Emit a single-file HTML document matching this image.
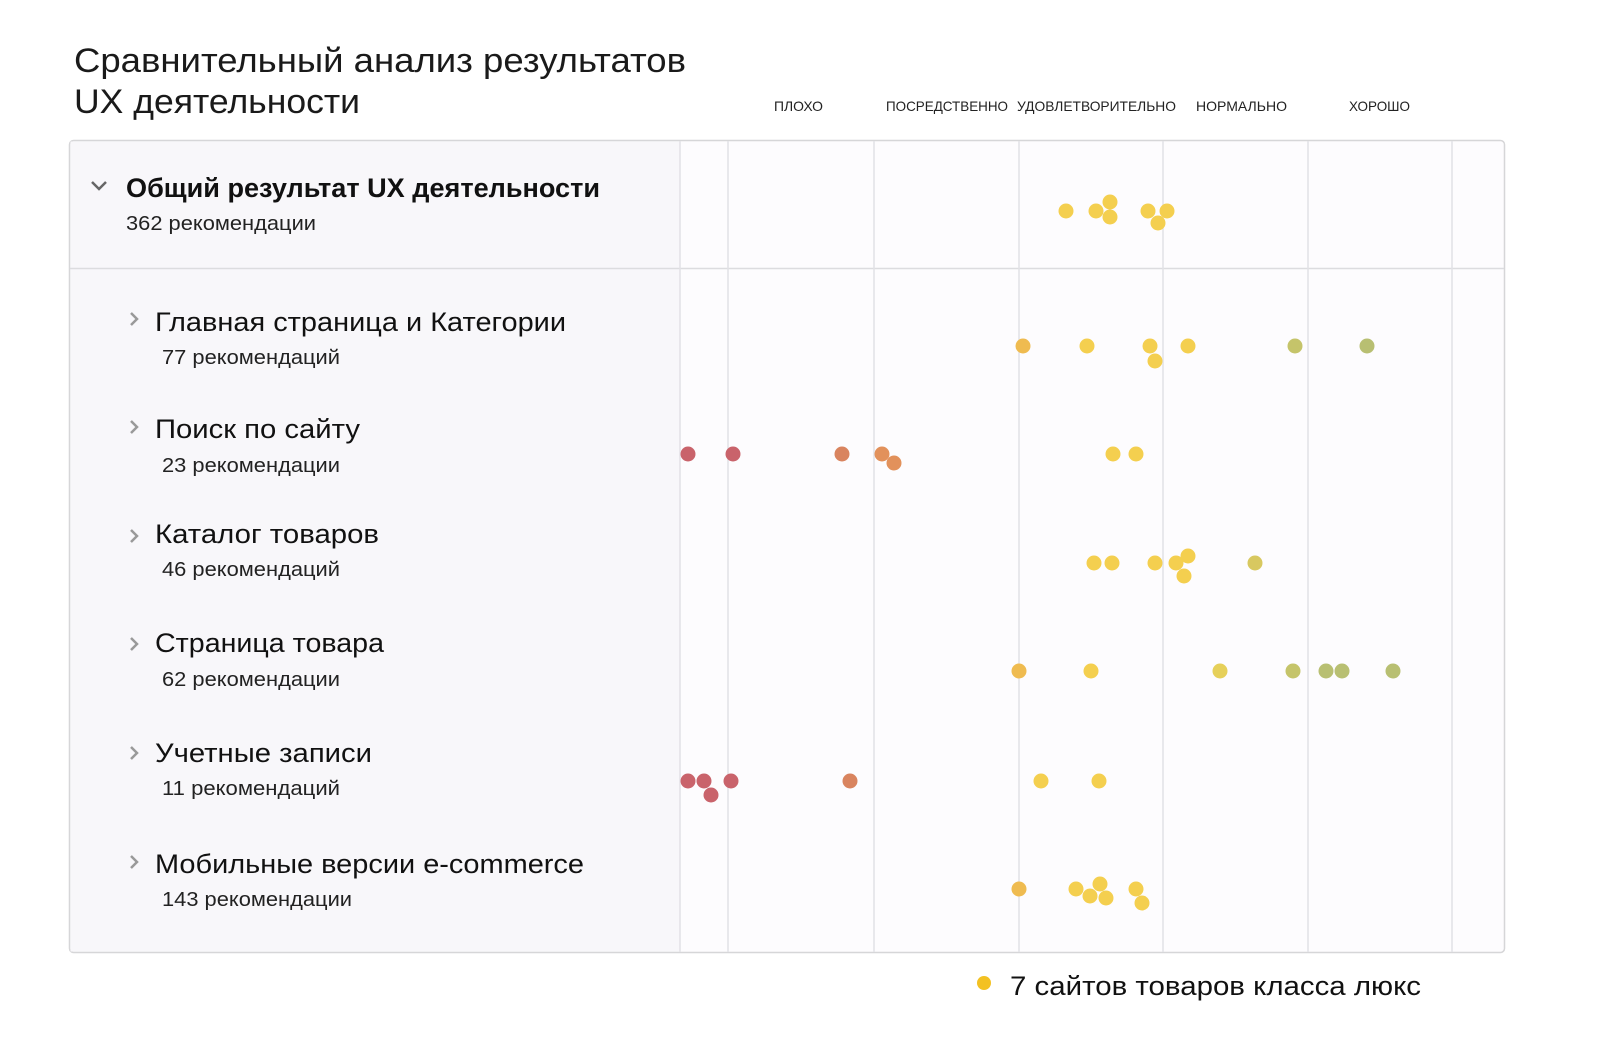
<!DOCTYPE html>
<html><head><meta charset="utf-8"><style>
html,body{margin:0;padding:0;background:#fff;}
svg{display:block;font-family:"Liberation Sans","Noto Sans CJK SC",sans-serif;}
</style></head><body>
<svg width="1600" height="1054" viewBox="0 0 1600 1054" xmlns="http://www.w3.org/2000/svg">
<rect width="1600" height="1054" fill="#fff"/>
<text x="74" y="72" font-size="34" fill="#1a1a1a" textLength="612" lengthAdjust="spacingAndGlyphs">Сравнительный анализ результатов</text>
<text x="74" y="113" font-size="34" fill="#1a1a1a" textLength="286" lengthAdjust="spacingAndGlyphs">UX деятельности</text>
<g font-size="14" fill="#222">
<text x="774" y="111" textLength="49" lengthAdjust="spacingAndGlyphs">ПЛОХО</text>
<text x="886" y="111" textLength="122" lengthAdjust="spacingAndGlyphs">ПОСРЕДСТВЕННО</text>
<text x="1017" y="111" textLength="159" lengthAdjust="spacingAndGlyphs">УДОВЛЕТВОРИТЕЛЬНО</text>
<text x="1196" y="111" textLength="91" lengthAdjust="spacingAndGlyphs">НОРМАЛЬНО</text>
<text x="1349" y="111" textLength="61" lengthAdjust="spacingAndGlyphs">ХОРОШО</text>
</g>
<rect x="69.5" y="140.5" width="1435" height="812" rx="4" fill="#fdfcfe" stroke="#d6d6d8" stroke-width="1.5"/>
<rect x="70.5" y="141.5" width="609" height="810" fill="#f8f7fa"/>
<line x1="70" y1="268.5" x2="1504" y2="268.5" stroke="#dcdcdf" stroke-width="1.5"/>
<g stroke="#e2e1e6" stroke-width="1.5">
<line x1="680" y1="141" x2="680" y2="952"/>
<line x1="728" y1="141" x2="728" y2="952"/>
<line x1="874" y1="141" x2="874" y2="952"/>
<line x1="1019" y1="141" x2="1019" y2="952"/>
<line x1="1163" y1="141" x2="1163" y2="952"/>
<line x1="1308" y1="141" x2="1308" y2="952"/>
<line x1="1452" y1="141" x2="1452" y2="952"/>
</g>
<path d="M92 182 L99 189 L106 182" fill="none" stroke="#666" stroke-width="2.5"/>
<text x="126" y="197" font-size="27" font-weight="bold" fill="#111" textLength="474" lengthAdjust="spacingAndGlyphs">Общий результат UX деятельности</text>
<text x="126" y="230" font-size="20" fill="#222" textLength="190" lengthAdjust="spacingAndGlyphs">362 рекомендации</text>
<g fill="none" stroke="#999" stroke-width="2.5">
<path d="M131 313 L137 319 L131 325"/>
<path d="M131 421 L137 427 L131 433"/>
<path d="M131 530 L137 536 L131 542"/>
<path d="M131 638 L137 644 L131 650"/>
<path d="M131 747 L137 753 L131 759"/>
<path d="M131 856 L137 862 L131 868"/>
</g>
<g font-size="27" fill="#111">
<text x="155" y="331" textLength="411" lengthAdjust="spacingAndGlyphs">Главная страница и Категории</text>
<text x="155" y="438" textLength="205" lengthAdjust="spacingAndGlyphs">Поиск по сайту</text>
<text x="155" y="543" textLength="224" lengthAdjust="spacingAndGlyphs">Каталог товаров</text>
<text x="155" y="652" textLength="229" lengthAdjust="spacingAndGlyphs">Страница товара</text>
<text x="155" y="762" textLength="217" lengthAdjust="spacingAndGlyphs">Учетные записи</text>
<text x="155" y="873" textLength="429" lengthAdjust="spacingAndGlyphs">Мобильные версии e-commerce</text>
</g>
<g font-size="20" fill="#222">
<text x="162" y="364" textLength="178" lengthAdjust="spacingAndGlyphs">77 рекомендаций</text>
<text x="162" y="472" textLength="178" lengthAdjust="spacingAndGlyphs">23 рекомендации</text>
<text x="162" y="576" textLength="178" lengthAdjust="spacingAndGlyphs">46 рекомендаций</text>
<text x="162" y="686" textLength="178" lengthAdjust="spacingAndGlyphs">62 рекомендации</text>
<text x="162" y="795" textLength="178" lengthAdjust="spacingAndGlyphs">11 рекомендаций</text>
<text x="162" y="906" textLength="190" lengthAdjust="spacingAndGlyphs">143 рекомендации</text>
</g>
<g fill="#f4cf4f">
<circle cx="1066" cy="211" r="7.5"/><circle cx="1096" cy="211" r="7.5"/><circle cx="1110" cy="202" r="7.5"/><circle cx="1110" cy="217" r="7.5"/><circle cx="1148" cy="211" r="7.5"/><circle cx="1167" cy="211" r="7.5"/><circle cx="1158" cy="223" r="7.5"/>
<circle cx="1087" cy="346" r="7.5"/><circle cx="1150" cy="346" r="7.5"/><circle cx="1155" cy="361" r="7.5"/><circle cx="1188" cy="346" r="7.5"/>
<circle cx="1113" cy="454" r="7.5"/><circle cx="1136" cy="454" r="7.5"/>
<circle cx="1094" cy="563" r="7.5"/><circle cx="1112" cy="563" r="7.5"/><circle cx="1155" cy="563" r="7.5"/><circle cx="1176" cy="563" r="7.5"/><circle cx="1188" cy="556" r="7.5"/><circle cx="1184" cy="576" r="7.5"/>
<circle cx="1091" cy="671" r="7.5"/>
<circle cx="1041" cy="781" r="7.5"/><circle cx="1099" cy="781" r="7.5"/>
<circle cx="1076" cy="889" r="7.5"/><circle cx="1100" cy="884" r="7.5"/><circle cx="1090" cy="896" r="7.5"/><circle cx="1106" cy="898" r="7.5"/><circle cx="1136" cy="889" r="7.5"/><circle cx="1142" cy="903" r="7.5"/>
</g>
<g fill="#efbb50">
<circle cx="1023" cy="346" r="7.5"/><circle cx="1019" cy="671" r="7.5"/><circle cx="1019" cy="889" r="7.5"/>
</g>
<g fill="#c5c46a"><circle cx="1295" cy="346" r="7.5"/><circle cx="1293" cy="671" r="7.5"/></g>
<g fill="#b8bf72"><circle cx="1367" cy="346" r="7.5"/><circle cx="1326" cy="671" r="7.5"/><circle cx="1342" cy="671" r="7.5"/><circle cx="1393" cy="671" r="7.5"/></g>
<circle cx="1255" cy="563" r="7.5" fill="#d8c860"/>
<circle cx="1220" cy="671" r="7.5" fill="#e6d05a"/>
<g fill="#c9636b">
<circle cx="688" cy="454" r="7.5"/><circle cx="733" cy="454" r="7.5"/>
<circle cx="688" cy="781" r="7.5"/><circle cx="704" cy="781" r="7.5"/><circle cx="731" cy="781" r="7.5"/><circle cx="711" cy="795" r="7.5"/>
</g>
<g fill="#d9845f"><circle cx="842" cy="454" r="7.5"/><circle cx="850" cy="781" r="7.5"/></g>
<g fill="#e2915b"><circle cx="882" cy="454" r="7.5"/><circle cx="894" cy="463" r="7.5"/></g>
<circle cx="984" cy="983" r="7" fill="#f3c122"/>
<text x="1010" y="995" font-size="27" fill="#111" textLength="411" lengthAdjust="spacingAndGlyphs">7 сайтов товаров класса люкс</text>
</svg>
</body></html>
